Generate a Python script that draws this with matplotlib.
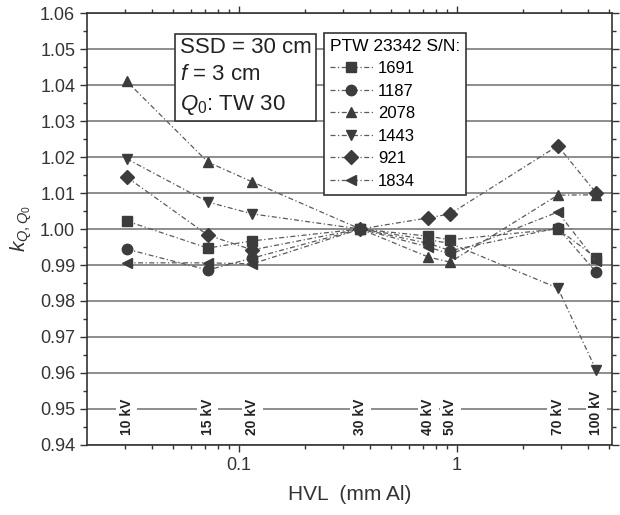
import numpy as np
import matplotlib.pyplot as plt
from matplotlib.ticker import MultipleLocator, FixedLocator, FixedFormatter, NullFormatter, LogLocator

plt.rcParams['font.family'] = ['Liberation Sans', 'DejaVu Sans']
plt.rcParams['mathtext.fontset'] = 'custom'
plt.rcParams['mathtext.rm'] = 'Liberation Sans'
plt.rcParams['mathtext.it'] = 'Liberation Sans:italic'

# HVL of each beam quality (mm Al) and its tube voltage
hvl = [0.0306, 0.072, 0.115, 0.36, 0.74, 0.93, 2.9, 4.35]
kv_labels = ["10 kV", "15 kV", "20 kV", "30 kV", "40 kV", "50 kV", "70 kV", "100 kV"]

# k_Q,Q0 per chamber serial number
serials = ["1691", "1187", "2078", "1443", "921", "1834"]
k_1691 = [1.0022, 0.9947, 0.9967, 1.000, 0.998, 0.997, 1.000, 0.992]
k_1187 = [0.9944, 0.9886, 0.9919, 1.000, 0.996, 0.994, 1.0003, 0.988]
k_2078 = [1.041, 1.0186, 1.0131, 1.000, 0.9922, 0.9908, 1.0094, 1.0095]
k_1443 = [1.0195, 1.0075, 1.0042, 1.000, 0.997, 0.996, 0.9836, 0.9608]
k_921 = [1.0144, 0.9983, 0.9942, 1.000, 1.0031, 1.0042, 1.0231, 1.010]
k_1834 = [0.9906, 0.9906, 0.9903, 1.000, 0.995, 0.993, 1.0047, 0.991]
markers = ["s", "o", "^", "v", "D", "<"]

fig = plt.figure(figsize=(6.2, 5.15), dpi=100)
ax = fig.add_axes([87 / 620, 70 / 515, 525 / 620, 432 / 515])

line_col = "#5a5a5a"
mark_col = "#3c3c3c"
for sn, k, m in zip(serials, [k_1691, k_1187, k_2078, k_1443, k_921, k_1834], markers):
    ms = 7 if m == "D" else 7.5
    ax.plot(hvl, k, linestyle=(0, (4, 2, 1, 2)), lw=0.9, color=line_col,
            marker=m, markersize=ms, markerfacecolor=mark_col, markeredgecolor=mark_col,
            label=sn, zorder=4)

# voltage labels along 0.95
for x, lab in zip(hvl, kv_labels):
    ax.text(x, 0.9428, lab, rotation=90, ha="center", va="bottom", fontsize=10,
            fontweight="bold", color="#222222",
            bbox=dict(fc="white", ec="none", pad=2.5), zorder=3)

ax.set_xscale("log")
ax.set_xlim(0.0201, 5.14)
ax.set_ylim(0.94, 1.06)
ax.xaxis.set_major_locator(FixedLocator([0.1, 1]))
ax.xaxis.set_major_formatter(FixedFormatter(["0.1", "1"]))
ax.xaxis.set_minor_locator(LogLocator(base=10, subs=np.arange(2, 10)))
ax.xaxis.set_minor_formatter(NullFormatter())
ax.yaxis.set_major_locator(MultipleLocator(0.01))
ax.yaxis.set_minor_locator(MultipleLocator(0.005))
ax.yaxis.set_major_formatter(plt.FormatStrFormatter("%.2f"))

ax.grid(axis="y", which="major", color="#7a7a7a", lw=1.2)
ax.tick_params(which="both", direction="out", top=True, right=True,
               labelsize=13, labelcolor="#333333", color="#333333")
ax.tick_params(which="major", length=5, width=1)
ax.tick_params(which="minor", length=3, width=1)
for sp in ax.spines.values():
    sp.set_color("#333333")
    sp.set_linewidth(1.2)

ax.set_xlabel("HVL  (mm Al)", fontsize=15, color="#333333", labelpad=8)
ax.set_ylabel(r"$k_{Q,Q_0}$", fontsize=15, color="#333333", labelpad=4)

ax.text(0.177, 0.945, "SSD = 30 cm\n$f$ = 3 cm\n$Q_0$: TW 30", transform=ax.transAxes,
        ha="left", va="top", fontsize=16, color="#222222", linespacing=1.42,
        bbox=dict(boxstyle="square,pad=0.2", fc="white", ec="#333333", lw=1.2), zorder=5)

leg = ax.legend(title="PTW 23342 S/N:", loc="upper left", bbox_to_anchor=(0.451, 0.954),
                frameon=True, fancybox=False, edgecolor="#333333", framealpha=1,
                fontsize=12, title_fontsize=12.5, handlelength=2.6, handletextpad=0.3,
                labelspacing=0.45, borderpad=0.35, borderaxespad=0, alignment="left")
leg.get_frame().set_linewidth(1.2)
leg.set_zorder(6)

fig.savefig("out.png", dpi=100)
